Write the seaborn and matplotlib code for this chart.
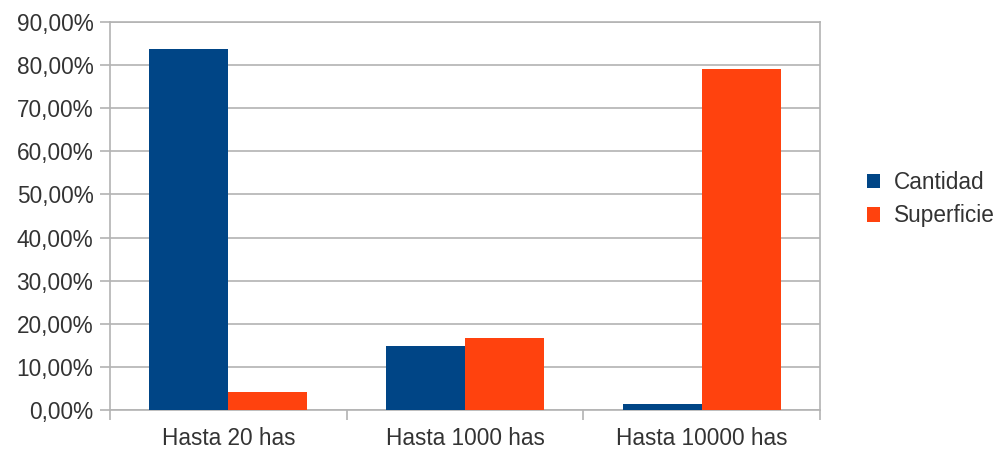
import matplotlib
matplotlib.use('Agg')
import matplotlib.pyplot as plt
import matplotlib.ticker as mticker
import seaborn as sns
import pandas as pd

# categories and series (percent)
categories = ['Hasta 20 has', 'Hasta 1000 has', 'Hasta 10000 has']
series_names = ['Cantidad', 'Superficie']
cantidad = [83.6, 14.9, 1.5]
superficie = [4.3, 16.8, 79.0]
colors = ['#004586', '#ff420e']

# long-form table for seaborn
df = pd.DataFrame({
    'categoria': categories * 2,
    'serie': [series_names[0]] * len(categories) + [series_names[1]] * len(categories),
    'valor': cantidad + superficie,
})

sns.set_style('white')
plt.rcParams['font.family'] = ['Liberation Sans', 'DejaVu Sans']
text_color = '#333333'
grid_color = '#b3b3b3'
fs = 16.3

fig = plt.figure(figsize=(10.02, 4.5), dpi=100)
ax = fig.add_axes([0.1098, 0.0878, 0.7086, 0.8644])

sns.barplot(data=df, x='categoria', y='valor', hue='serie', order=categories,
            hue_order=series_names, palette=colors, width=0.667, gap=0,
            saturation=1, errorbar=None, linewidth=0, ax=ax, zorder=3)

# y axis: 0..90 %, gridlines every 10
ax.set_ylim(0, 90)
ax.yaxis.set_major_locator(mticker.MultipleLocator(10))
ax.yaxis.set_major_formatter(mticker.FuncFormatter(lambda v, p: '{:.2f}%'.format(v).replace('.', ',')))
ax.grid(axis='y', color=grid_color, linewidth=1.2, zorder=0)
ax.set_axisbelow(True)

# x axis: ticks at category borders, labels centred
ax.set_xlim(-0.5, 2.5)
ax.set_xticks([-0.5, 0.5, 1.5, 2.5])
ax.set_xticklabels([])
ax.set_xticks([0, 1, 2], minor=True)
ax.set_xticklabels(categories, minor=True)
ax.tick_params(axis='x', which='major', bottom=True, length=7, width=1.2,
               color=grid_color, direction='out')
ax.tick_params(axis='x', which='minor', bottom=True, length=0, pad=12,
               labelsize=fs, labelcolor=text_color)
ax.tick_params(axis='y', left=True, length=7, width=1.2, color=grid_color, direction='out',
               pad=5, labelsize=fs, labelcolor=text_color)

for side in ['left', 'right', 'top', 'bottom']:
    ax.spines[side].set_visible(True)
    ax.spines[side].set_color(grid_color)
    ax.spines[side].set_linewidth(1.2)

ax.set_xlabel('')
ax.set_ylabel('')

# legend on the right
handles, labels = ax.get_legend_handles_labels()
ax.legend_.remove()
fig.legend(handles, labels, loc='center left', bbox_to_anchor=(0.865, 0.557),
           frameon=False, fontsize=fs, labelcolor=text_color,
           handlelength=0.6, handleheight=0.6, handletextpad=0.6, labelspacing=0.45,
           borderaxespad=0, borderpad=0)

fig.savefig('out.png', dpi=100)
